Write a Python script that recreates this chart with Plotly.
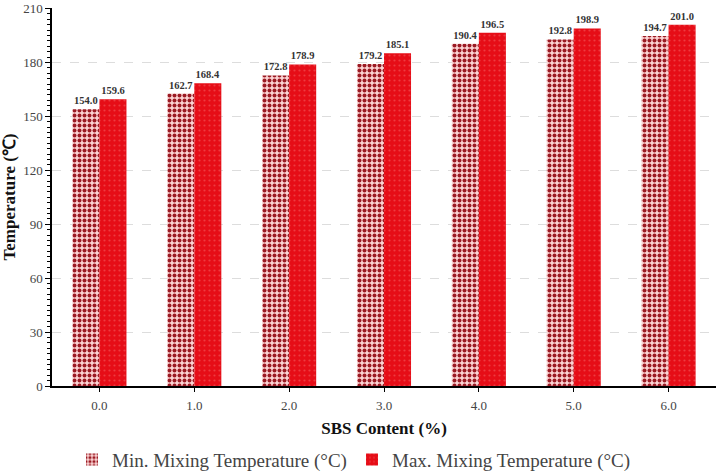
import plotly.graph_objects as go

# SBS content categories and mixing temperatures
sbs_content = ["0.0", "1.0", "2.0", "3.0", "4.0", "5.0", "6.0"]
min_temp = [154.0, 162.7, 172.8, 179.2, 190.4, 192.8, 194.7]
max_temp = [159.6, 168.4, 178.9, 185.1, 196.5, 198.9, 201.0]

serif = "Liberation Serif"

fig = go.Figure()

fig.add_trace(go.Bar(
    x=sbs_content, y=min_temp,
    name="Min. Mixing Temperature (°C)",
    marker=dict(
        color="#fbd3d3",
        line=dict(width=0),
        pattern=dict(shape=".", fgcolor="#9b1b24", bgcolor="#fbd3d3",
                     size=5, solidity=0.5, fillmode="replace"),
    ),
    text=[f"<b>{v:.1f}</b>" for v in min_temp],
    textposition="outside",
    cliponaxis=False,
    textfont=dict(family=serif, size=10.5, color="#333333"),
))

fig.add_trace(go.Bar(
    x=sbs_content, y=max_temp,
    name="Max. Mixing Temperature (°C)",
    marker=dict(
        color="#e60d17",
        line=dict(width=0),
        pattern=dict(shape=".", fgcolor="#ee3a40", bgcolor="#e60d17",
                     size=5, solidity=0.15, fillmode="replace"),
    ),
    text=[f"<b>{v:.1f}</b>" for v in max_temp],
    textposition="outside",
    cliponaxis=False,
    textfont=dict(family=serif, size=10.5, color="#333333"),
))

fig.update_layout(
    width=720, height=471,
    barmode="group",
    bargap=0.43,
    bargroupgap=0,
    plot_bgcolor="white",
    paper_bgcolor="white",
    margin=dict(l=52, r=4, t=8, b=85),
    font=dict(family=serif, size=12, color="#222222"),
    legend=dict(
        orientation="h",
        xref="container",
        x=0.1, xanchor="left",
        yref="container",
        y=0.024, yanchor="middle",
        font=dict(family=serif, size=19, color="#444444"),
        traceorder="normal",
        itemwidth=30,
        entrywidth=235,
    ),
)

fig.update_xaxes(
    showline=True, linecolor="black", linewidth=1.5,
    ticks="outside", ticklen=4, tickcolor="black",
    ticklabelstandoff=3,
    tickfont=dict(family=serif, size=13, color="#444444"),
    title=dict(text="<b>SBS Content (%)</b>",
               font=dict(family=serif, size=17, color="#111111"),
               standoff=10),
    showgrid=False,
)

fig.update_yaxes(
    range=[0, 210.3],
    tickvals=[0, 30, 60, 90, 120, 150, 180, 210],
    ticklabeloverflow="allow",
    showline=True, linecolor="black", linewidth=1.5,
    ticks="outside", ticklen=5, tickcolor="black",
    minor=dict(dtick=3, ticks="outside", ticklen=3, tickcolor="black", showgrid=False),
    tickfont=dict(family=serif, size=13, color="#444444"),
    showgrid=True, gridcolor="#dddddd", griddash="dash", gridwidth=1,
    zeroline=False,
    automargin=False,
    title=dict(text="<b>Temperature (℃)</b>",
               font=dict(family=serif, size=17, color="#111111"),
               standoff=12),
)

# drop the page's default body margin so the figure sits at the window edge
fig.write_html("out.html", config={"displayModeBar": False},
               post_script="document.body.style.margin='0';")
